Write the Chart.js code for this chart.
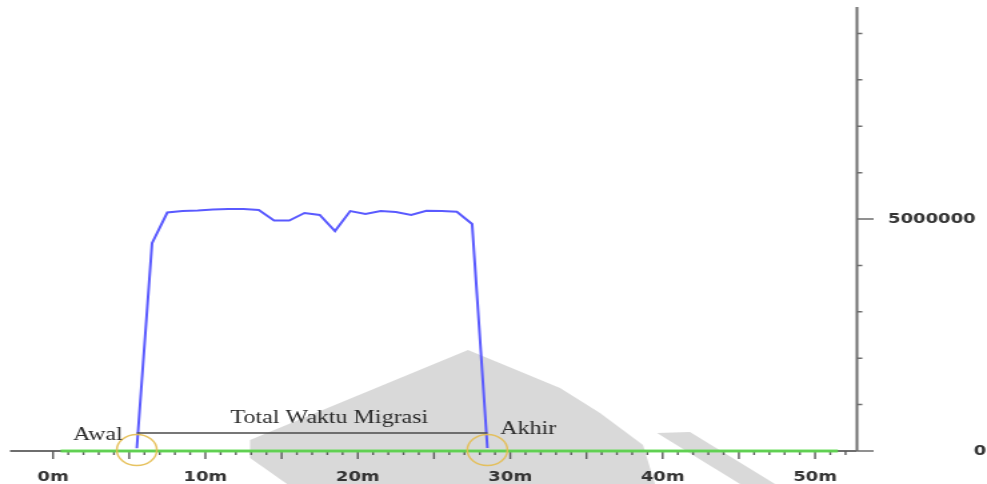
<!DOCTYPE html>
<html>
<head>
<meta charset="utf-8">
<script src="https://cdn.jsdelivr.net/npm/chart.js@4.4.1/dist/chart.umd.min.js"></script>
<style>
  html, body { margin: 0; padding: 0; background: #fff; overflow: hidden; }
  /* the source picture is a horizontally stretched screenshot, so draw narrow and stretch */
  #wrap { width: 740px; height: 484px; transform: scaleX(1.3338); transform-origin: 0 0; }
</style>
</head>
<body>
<div id="wrap"><canvas id="chart" width="740" height="484"></canvas></div>
<script>
const STRETCH = 987 / 740;

// Throughput during migration (blue trace), minutes vs. value
const blueTimes = [5.5, 6.5, 7.5, 8.5, 9.5, 10.5, 11.5, 12.5, 13.5, 14.5, 15.5, 16.5,
                   17.5, 18.5, 19.5, 20.5, 21.5, 22.5, 23.5, 24.5, 25.5, 26.5, 27.5, 28.5];
const blueValues = [60000, 4480000, 5140000, 5172000, 5183000, 5205000, 5215000, 5215000,
                    5194000, 4968000, 4968000, 5130000, 5086000, 4741000, 5172000, 5108000,
                    5172000, 5151000, 5086000, 5179000, 5172000, 5157000, 4892000, 65000];

// Flat green trace along the baseline
const greenTimes = [0.5, 51.5];
const greenValues = [0, 0];

// Axis labels
const xLabelMinutes = [0, 10, 20, 30, 40, 50];
const yLabelValues = [0, 5000000];
const noteStart = 'Awal';
const noteMiddle = 'Total Waktu Migrasi';
const noteEnd = 'Akhir';

const toPoints = (xs, ys) => xs.map((x, i) => ({ x, y: ys[i] }));

// grey watermark behind the plot (reference pixel coords)
const watermark = {
  id: 'watermark',
  beforeDraw(chart) {
    const ctx = chart.ctx;
    const shapes = [
      [[250, 440], [468, 350], [560, 388], [600, 413], [643, 445], [655, 484], [287, 484], [250, 458]],
      [[657, 433], [690, 432], [775, 484], [740, 484]]
    ];
    ctx.save();
    ctx.scale(1 / STRETCH, 1);
    ctx.fillStyle = '#d9d9d9';
    shapes.forEach(pts => {
      ctx.beginPath();
      pts.forEach(([x, y], i) => (i ? ctx.lineTo(x, y) : ctx.moveTo(x, y)));
      ctx.closePath();
      ctx.fill();
    });
    ctx.restore();
  }
};

// axis lines, ticks and tick labels
const axes = {
  id: 'axes',
  beforeDatasetsDraw(chart) {
    const { ctx, chartArea: a, scales: { x, y } } = chart;
    ctx.save();
    ctx.strokeStyle = '#6e6e6e';
    ctx.lineWidth = 2;
    ctx.beginPath();
    ctx.moveTo(a.left, a.bottom);
    ctx.lineTo(a.right, a.bottom);
    ctx.moveTo(a.right, a.top);
    ctx.lineTo(a.right, a.bottom);
    ctx.stroke();

    // minute ticks
    ctx.lineWidth = 1.4;
    ctx.strokeStyle = '#5a5a5a';
    ctx.beginPath();
    for (let m = 0; m <= Math.floor(x.max); m++) {
      const px = x.getPixelForValue(m);
      const len = m % 5 === 0 ? 8 : 4;
      ctx.moveTo(px, a.bottom);
      ctx.lineTo(px, a.bottom + len);
    }
    ctx.stroke();

    ctx.fillStyle = '#333';
    ctx.font = 'bold 13.5px "DejaVu Sans"';
    ctx.textAlign = 'center';
    ctx.textBaseline = 'alphabetic';
    xLabelMinutes.forEach(m => ctx.fillText(m + 'm', x.getPixelForValue(m), a.bottom + 29.5));

    // value ticks on the right axis, every million
    ctx.strokeStyle = '#6e6e6e';
    ctx.lineWidth = 1.5;
    ctx.beginPath();
    for (let v = 0; v <= y.max; v += 1000000) {
      const py = y.getPixelForValue(v);
      const len = yLabelValues.includes(v) ? 12.5 : 4;
      ctx.moveTo(a.right, py);
      ctx.lineTo(a.right + len, py);
    }
    ctx.stroke();

    ctx.font = 'bold 13.5px "DejaVu Sans"';
    ctx.textAlign = 'right';
    ctx.textBaseline = 'middle';
    yLabelValues.forEach(v => {
      const right = v === 0 ? chart.width - 0.5 : a.right + 89;
      ctx.fillText(String(v), right, y.getPixelForValue(v));
    });
    ctx.restore();
  }
};

// start/end markers and the migration span
const notes = {
  id: 'notes',
  afterDatasetsDraw(chart) {
    const { ctx, chartArea: a, scales: { x } } = chart;
    const x0 = x.getPixelForValue(blueTimes[0]);
    const x1 = x.getPixelForValue(blueTimes[blueTimes.length - 1]);
    ctx.save();
    ctx.strokeStyle = '#4a4a4a';
    ctx.lineWidth = 1.4;
    ctx.beginPath();
    ctx.moveTo(x0, a.bottom - 18);
    ctx.lineTo(x1, a.bottom - 18);
    ctx.stroke();

    ctx.strokeStyle = 'rgba(228, 188, 80, 0.9)';
    ctx.lineWidth = 1.5;
    [x0, x1].forEach(cx => {
      ctx.beginPath();
      ctx.ellipse(cx, a.bottom - 1, 15, 15.5, 0, 0, Math.PI * 2);
      ctx.stroke();
    });

    ctx.fillStyle = '#2a2a2a';
    ctx.font = '18px "Liberation Serif"';
    ctx.textBaseline = 'alphabetic';
    ctx.textAlign = 'right';
    ctx.fillText(noteStart, x0 - 10.5, a.bottom - 11);
    ctx.textAlign = 'center';
    ctx.fillText(noteMiddle, (x0 + x1) / 2 + 13, a.bottom - 28);
    ctx.textAlign = 'left';
    ctx.fillText(noteEnd, x1 + 9.5, a.bottom - 17);
    ctx.restore();
  }
};

new Chart(document.getElementById('chart'), {
  type: 'line',
  data: {
    datasets: [
      {
        data: toPoints(greenTimes, greenValues),
        borderColor: 'rgba(95, 218, 80, 0.9)',
        borderWidth: 3,
        pointRadius: 0,
        clip: false
      },
      {
        data: toPoints(blueTimes, blueValues),
        borderColor: '#5a5aff',
        borderWidth: 2,
        pointRadius: 0,
        tension: 0,
        clip: false
      }
    ]
  },
  options: {
    responsive: false,
    animation: false,
    devicePixelRatio: 1,
    layout: { padding: { left: 7.5, right: 97.5, top: 7, bottom: 33 } },
    plugins: { legend: { display: false }, tooltip: { enabled: false } },
    scales: {
      x: { type: 'linear', min: -2.82, max: 52.75, display: false },
      y: { type: 'linear', min: 0, max: 9570000, display: false }
    }
  },
  plugins: [watermark, axes, notes]
});
</script>
</body>
</html>
